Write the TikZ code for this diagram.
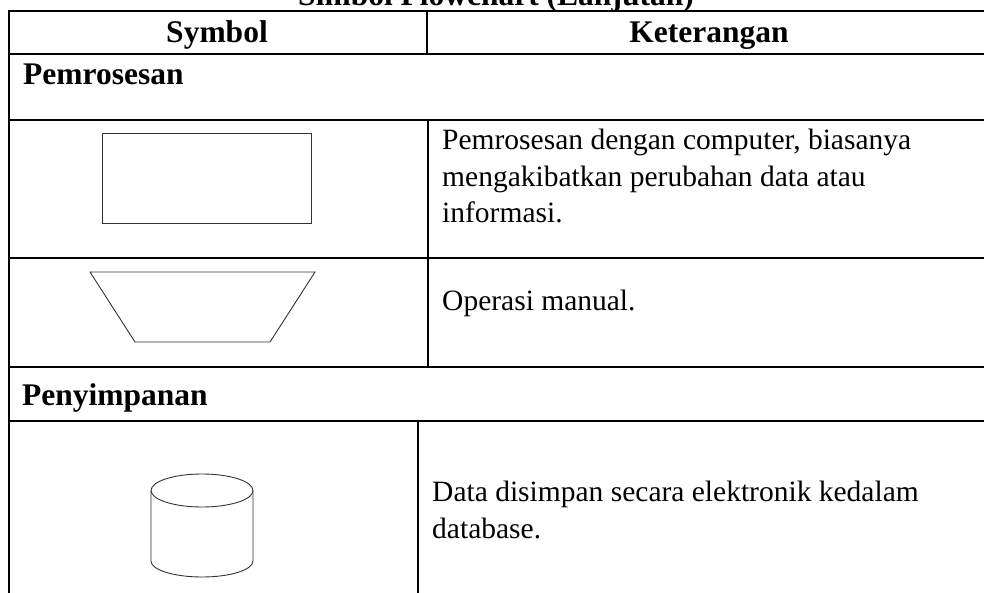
\documentclass[tikz,border=0pt]{standalone}
\usepackage{fontspec}
\setmainfont{Liberation Serif}
\begin{document}
\begin{tikzpicture}[x=1pt,y=-1pt,
  rule/.style={line width=1.6pt,line cap=rect},
  sym/.style={draw=black!80,line width=0.9pt},
  body/.style={inner sep=0pt,font=\fontsize{29.5}{36.5}\selectfont},
  head/.style={inner sep=0pt,font=\fontsize{31.5}{36.5}\selectfont\bfseries}]
\useasboundingbox (0,0) rectangle (984,593);
\clip (0,0) rectangle (984,593);

% caption above the table
\node[head,anchor=base] (title) at (496,6) {Simbol Flowchart (Lanjutan)};

% table rules
\draw[rule] (9,11) -- (990,11);
\draw[rule] (9,54) -- (990,54);
\draw[rule] (9,120) -- (990,120);
\draw[rule] (9,258) -- (990,258);
\draw[rule] (9,367) -- (990,367);
\draw[rule] (9,421) -- (990,421);
\draw[rule] (9,11) -- (9,600);
\draw[rule] (427,11) -- (427,54);
\draw[rule] (428,120) -- (428,367);
\draw[rule] (418,421) -- (418,600);

% header
\node[head,anchor=base] (hsym) at (217,43) {Symbol};
\node[head,anchor=base] (hket) at (709,43) {Keterangan};

% group: processing
\node[head,anchor=base west] (gproc) at (23,85) {Pemrosesan};

\draw[sym] (102,133) rectangle (311,223);
\node[body,anchor=base west] (d1a) at (442,150) {Pemrosesan dengan computer, biasanya};
\node[body,anchor=base west] (d1b) at (442,186.5) {mengakibatkan perubahan data atau};
\node[body,anchor=base west] (d1c) at (442,223) {informasi.};

\draw[sym] (90,272) -- (315,272) -- (270,342) -- (135,342) -- cycle;
\node[body,anchor=base west] (d2) at (442,310) {Operasi manual.};

% group: storage
\node[head,anchor=base west] (gstore) at (22,405) {Penyimpanan};

% database cylinder
\draw[sym] (151,490.5) -- (151,561) arc[start angle=180,end angle=0,x radius=51,y radius=16]
  -- (253,490.5);
\draw[sym] (202,490.5) ellipse[x radius=51,y radius=16.5];
\node[body,anchor=base west] (d3a) at (432,501.5) {Data disimpan secara elektronik kedalam};
\node[body,anchor=base west] (d3b) at (432,538) {database.};
\end{tikzpicture}
\end{document}
